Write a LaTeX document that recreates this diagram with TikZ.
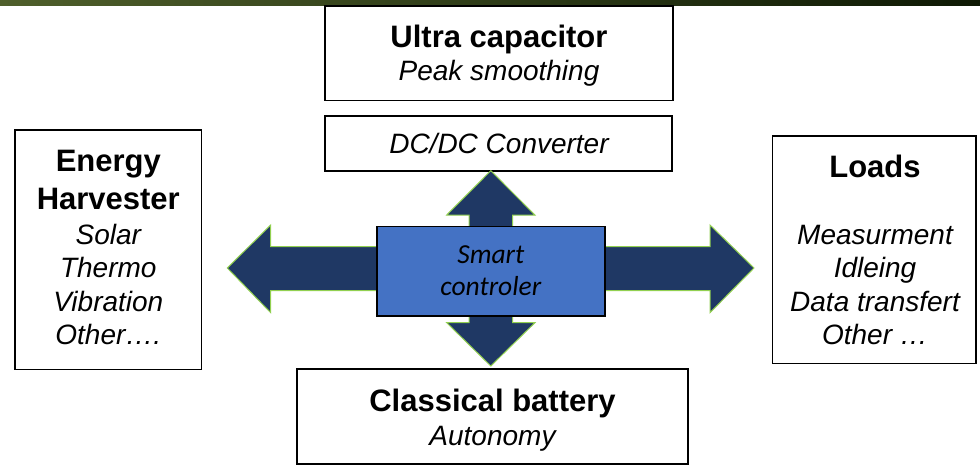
\documentclass[tikz,border=0pt]{standalone}
\usepackage{fontspec}
\setmainfont{Liberation Sans}
\newfontfamily\calfont{Carlito}
\definecolor{navy}{HTML}{1F3864}
\definecolor{leaf}{HTML}{92D050}
\definecolor{ctrlblue}{HTML}{4472C4}
\definecolor{barleft}{HTML}{4F5F2B}
\definecolor{barright}{HTML}{0E1904}

\begin{document}
\begin{tikzpicture}[x=1pt,y=-1pt,
  box/.style={draw=black, line width=1.5pt, fill=white, inner sep=0pt},
  title/.style={anchor=base, inner sep=0pt, font=\fontsize{31}{31}\selectfont\bfseries},
  item/.style={anchor=base, inner sep=0pt, font=\fontsize{28}{28}\selectfont\itshape},
  ctrltext/.style={anchor=base, inner sep=0pt, font=\fontsize{27.5}{27.5}\selectfont\calfont\itshape},
  flow/.style={fill=navy, draw=leaf, line width=1pt, line join=miter}]

\useasboundingbox (0,0) rectangle (980,469);
\fill[white] (0,0) rectangle (980,469);

% header band
\shade[left color=barleft, right color=barright] (0,0) rectangle (980,5);

% boxes
\node[box, minimum width=348pt, minimum height=94.5pt] (ultra) at (499,53.25) {};
\node[box, minimum width=347pt, minimum height=55pt] (dcdc) at (498.5,143.5) {};
\node[box, minimum width=186.7pt, minimum height=239.7pt] (harv) at (108.35,249.85) {};
\node[box, minimum width=203.5pt, minimum height=227.3pt] (loads) at (874.25,249.65) {};
\node[box, minimum width=391pt, minimum height=95pt] (batt) at (492.5,416.5) {};

% power flow arrows
\draw[flow] (376.7,246.7) -- (270.7,246.7) -- (270.7,225) -- (227.3,268)
  -- (270.7,312.7) -- (270.7,290.7) -- (376.7,290.7);
\draw[flow] (605,246.7) -- (710,246.7) -- (710,225) -- (754,268)
  -- (710,312.7) -- (710,290.7) -- (605,290.7);
\draw[flow] (469,226.5) -- (469,215) -- (446.7,215) -- (490.8,170.7)
  -- (534.9,215) -- (512.6,215) -- (512.6,226.5);
\draw[flow] (469,316) -- (469,322.7) -- (446.7,322.7) -- (490.8,366)
  -- (534.9,322.7) -- (512.6,322.7) -- (512.6,316);

% controller
\node[draw=black, line width=1.8pt, fill=ctrlblue, inner sep=0pt,
  minimum width=228.3pt, minimum height=89.5pt] (ctrl) at (490.85,271.25) {};

% texts
\node[title] (ultraT) at (499,47.5) {Ultra capacitor};
\node[item] (ultraS) at (499,80.5) {Peak smoothing};
\node[item] (dcdcT) at (499,153.3) {DC/DC Converter};

\node[title] (harvA) at (108.3,171.5) {Energy};
\node[title] (harvB) at (108.3,209.5) {Harvester};
\node[item] (harv1) at (108.3,244) {Solar};
\node[item] (harv2) at (108.3,277.5) {Thermo};
\node[item] (harv3) at (108.3,311) {Vibration};
\node[item] (harv4) at (108.3,344.5) {Other\ldots.};

\node[title] (loadsT) at (875,177.5) {Loads};
\node[item] (loads1) at (875,244) {Measurment};
\node[item] (loads2) at (875,277.5) {Idleing};
\node[item] (loads3) at (875,311) {Data transfert};
\node[item] (loads4) at (875,344.5) {Other \ldots};

\node[title] (battT) at (492.5,411.5) {Classical battery};
\node[item] (battS) at (492.5,445.5) {Autonomy};

\node[ctrltext] (ctrlA) at (490.8,263) {Smart};
\node[ctrltext] (ctrlB) at (490.8,295) {controler};
\end{tikzpicture}
\end{document}
